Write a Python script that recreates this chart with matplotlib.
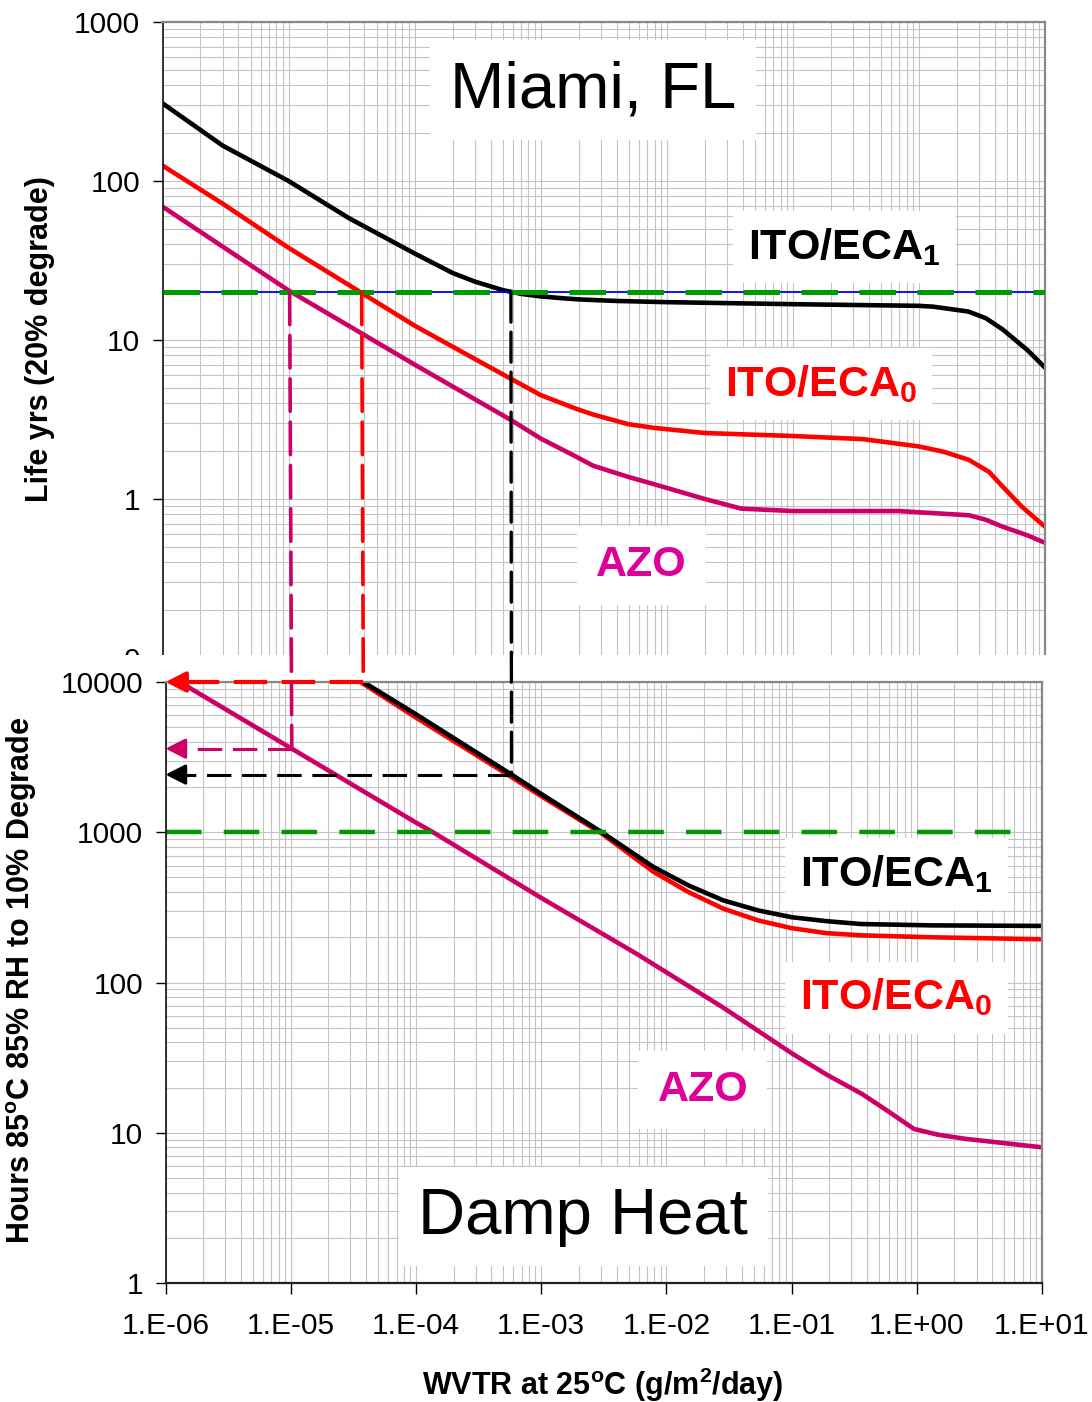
import numpy as np
import matplotlib
matplotlib.use("Agg")
import matplotlib.pyplot as plt
from matplotlib.patches import Rectangle, ConnectionPatch
from matplotlib.ticker import LogLocator, FixedLocator, FixedFormatter, NullFormatter

plt.rcParams['font.family'] = ['Liberation Sans', 'DejaVu Sans']
plt.rcParams['mathtext.fontset'] = 'custom'
plt.rcParams['mathtext.rm'] = 'Liberation Sans'
plt.rcParams['mathtext.bf'] = 'Liberation Sans:bold'
plt.rcParams['mathtext.default'] = 'regular'

# ---- Miami, FL: life in years (20% degrade) vs WVTR ----
life_eca1_x = [1e-6, 3e-6, 1e-5, 3e-5, 1e-4, 2e-4, 3e-4, 5e-4, 7e-4, 1e-3, 1.5e-3, 2e-3, 4e-3, 1e-2, 1e-1,
               1, 1.3, 2.47, 3.4, 4.65, 7.3, 10]
life_eca1_y = [308, 167, 100, 58.5, 35, 26.4, 23.3, 20.6, 19.5, 18.8, 18.3, 18.0, 17.6, 17.3, 16.8,
               16.4, 16.2, 15.1, 13.7, 11.6, 8.6, 6.7]

life_eca0_x = [1e-6, 3e-6, 1e-5, 3e-5, 1e-4, 3e-4, 1e-3, 1.9e-3, 2.6e-3, 4.9e-3, 7.9e-3, 2e-2,
               0.1, 0.36, 1, 1.58, 2.5, 3.6, 4.6, 6.5, 8.3, 10]
life_eca0_y = [125, 72, 38, 22.2, 12.3, 7.6, 4.5, 3.7, 3.4, 2.96, 2.8, 2.6,
               2.49, 2.38, 2.14, 1.98, 1.76, 1.48, 1.2, 0.9, 0.76, 0.67]

life_azo_x = [1e-6, 1e-5, 3.8e-5, 1e-4, 5.8e-4, 1e-3, 1.9e-3, 2.6e-3, 4.9e-3, 7.9e-3, 2e-2, 3.9e-2,
              0.1, 0.69, 2.5, 3.4, 4.6, 7.3, 10]
life_azo_y = [69, 20.5, 11, 7.0, 3.14, 2.4, 1.85, 1.62, 1.38, 1.24, 1.0, 0.87,
              0.84, 0.84, 0.79, 0.74, 0.67, 0.59, 0.53]

# ---- damp heat: hours at 85C/85%RH to 10% degrade vs WVTR ----
dh_eca1_x = [3.8e-5, 1e-4, 5.8e-4, 1e-3, 3.05e-3, 7.9e-3, 1.5e-2, 2.85e-2, 5.4e-2, 0.1, 0.19, 0.36, 1.3, 10]
dh_eca1_y = [10000, 6100, 2420, 1800, 1000, 587, 443, 352, 302, 272, 256, 245, 240, 238]

dh_eca0_x = [3.6e-5, 1e-4, 5.8e-4, 1e-3, 3.05e-3, 7.9e-3, 1.5e-2, 2.85e-2, 5.4e-2, 0.1, 0.19, 0.36, 1.3, 10]
dh_eca0_y = [10000, 5800, 2330, 1740, 980, 545, 400, 310, 259, 230, 213, 206, 200, 194]

dh_azo_x = [1.3e-6, 1.02e-5, 1e-4, 1.37e-4, 1e-3, 5.8e-3, 2.85e-2, 0.102, 0.19, 0.366, 0.59,
            0.95, 1.48, 2.47, 10]
dh_azo_y = [10000, 3600, 1160, 1000, 366, 155, 68, 33.5, 24.4, 18.1, 13.9,
            10.6, 9.7, 9.1, 8.0]

# 20-year target and 1000 h damp heat reference
life_target = 20
dh_target = 1000

# WVTR where each curve reaches 20 years, and the damp heat hours there
cross_names = ['azo', 'eca0', 'eca1']
cross_wvtr = [1.02e-5, 3.8e-5, 5.8e-4]
cross_hours = [3600, 10000, 2420]

x_ticks = [1e-6, 1e-5, 1e-4, 1e-3, 1e-2, 1e-1, 1, 10]
x_labels = ['1.E-06', '1.E-05', '1.E-04', '1.E-03', '1.E-02', '1.E-01', '1.E+00', '1.E+01']
life_ticks = [0.1, 1, 10, 100, 1000]
life_labels = ['0', '1', '10', '100', '1000']
dh_ticks = [1, 10, 100, 1000, 10000]
dh_labels = ['1', '10', '100', '1000', '10000']

BLACK = '#000000'
RED = '#FF0000'
AZO_LINE = '#CC0066'
AZO_TEXT = '#DD0099'
GREEN = '#009900'
GRID = '#C4C4C4'
colors = {'azo': AZO_LINE, 'eca0': RED, 'eca1': BLACK}

fig = plt.figure(figsize=(10.92, 14.02), dpi=100)
fig.patch.set_facecolor('white')

ax1 = fig.add_axes([162.5 / 1092, 1 - 658 / 1402, (1045 - 162.5) / 1092, 636 / 1402], zorder=1)
ax2 = fig.add_axes([165.5 / 1092, 1 - 1283 / 1402, (1042 - 165.5) / 1092, 601 / 1402], zorder=2)


def setup(ax, ylim, yticks, ylabels):
    ax.set_xscale('log')
    ax.set_yscale('log')
    ax.set_xlim(1e-6, 10)
    ax.set_ylim(*ylim)
    ax.xaxis.set_major_locator(FixedLocator(x_ticks))
    ax.xaxis.set_major_formatter(FixedFormatter(x_labels))
    ax.xaxis.set_minor_locator(LogLocator(base=10, subs=np.arange(2, 10), numticks=40))
    ax.xaxis.set_minor_formatter(NullFormatter())
    ax.yaxis.set_major_locator(FixedLocator(yticks))
    ax.yaxis.set_major_formatter(FixedFormatter(ylabels))
    ax.yaxis.set_minor_locator(LogLocator(base=10, subs=np.arange(2, 10), numticks=40))
    ax.yaxis.set_minor_formatter(NullFormatter())
    ax.grid(which='both', color=GRID, lw=0.8)
    ax.set_axisbelow(True)
    ax.tick_params(which='minor', length=0)
    ax.tick_params(which='major', direction='out', length=7, width=1, labelsize=21.5)
    ax.tick_params(axis='y', pad=9)
    ax.spines['left'].set_color('#111111')
    ax.spines['left'].set_linewidth(1.2)
    for s in ['top', 'right']:
        ax.spines[s].set_color('#888888')
        ax.spines[s].set_linewidth(1.6)


setup(ax1, (0.1, 1000), life_ticks, life_labels)
setup(ax2, (1, 10000), dh_ticks, dh_labels)
ax1.tick_params(axis='x', which='both', length=0, labelbottom=False)
ax2.tick_params(axis='x', pad=13, length=8)
ax2.spines['bottom'].set_color('#222222')
ax2.spines['bottom'].set_linewidth(1.6)

LW = 3.3

# top panel curves
ax1.plot(life_eca1_x, life_eca1_y, color=BLACK, lw=LW, solid_joinstyle='round')
ax1.plot(life_eca0_x, life_eca0_y, color=RED, lw=LW, solid_joinstyle='round')
ax1.plot(life_azo_x, life_azo_y, color=AZO_LINE, lw=LW, solid_joinstyle='round')
ax1.axhline(life_target, color='#0000FF', lw=1.3, zorder=2.5)
ax1.axhline(life_target, color=GREEN, lw=3.6, dashes=(7.3, 4.3), zorder=2.6)

# bottom panel curves
ax2.plot(dh_eca0_x, dh_eca0_y, color=RED, lw=LW, solid_joinstyle='round')
ax2.plot(dh_eca1_x, dh_eca1_y, color=BLACK, lw=LW, solid_joinstyle='round')
ax2.plot(dh_azo_x, dh_azo_y, color=AZO_LINE, lw=LW, solid_joinstyle='round')
ax2.plot([1e-6, 7e0], [dh_target, dh_target], color=GREEN, lw=3.2, dashes=(8, 5))

# white strip hiding the lower end of the top panel
fig.add_artist(Rectangle((0, 0), 1, 1 - 655 / 1402, transform=fig.transFigure,
                         facecolor='white', edgecolor='none', zorder=1.5))

# drop lines from the 20 yr crossing down to damp heat hours, then back to the axis
for name, wx, hrs in zip(cross_names, cross_wvtr, cross_hours):
    c = colors[name]
    lw = 2.6 if name != 'eca1' else 2.4
    cp = ConnectionPatch(xyA=(wx, life_target), coordsA=ax1.transData,
                         xyB=(wx, hrs), coordsB=ax2.transData,
                         color=c, lw=lw, linestyle=(0, (9, 3)), zorder=5)
    fig.add_artist(cp)
    hlw = 3 if name == 'eca0' else 2.2
    ax2.plot([wx, 1.12e-6], [hrs, hrs], color=c, lw=hlw, dashes=(8, 3.5),
             clip_on=False, zorder=6)
    ax2.annotate('', xy=(1.0e-6, hrs), xytext=(1.35e-6, hrs),
                 arrowprops=dict(arrowstyle='-|>,head_length=0.55,head_width=0.28',
                                 color=c, lw=hlw, shrinkA=0, shrinkB=0,
                                 mutation_scale=22),
                 annotation_clip=False, zorder=6)


def label(ax, x, y, s, color, size, weight='bold', pad=0.35):
    ax.text(x, y, s, transform=ax.transAxes, ha='center', va='center',
            fontsize=size, fontweight=weight, color=color, zorder=4,
            bbox=dict(boxstyle='square,pad=%s' % pad, facecolor='white', edgecolor='none'))


label(ax1, 0.488, 0.893, 'Miami, FL', BLACK, 47, weight='normal', pad=0.3)
label(ax1, 0.7725, 0.646, 'ITO/ECA$_1$', BLACK, 31)
label(ax1, 0.746, 0.431, 'ITO/ECA$_0$', RED, 31)
label(ax1, 0.5427, 0.146, 'AZO', AZO_TEXT, 31, pad=0.45)

label(ax2, 0.834, 0.680, 'ITO/ECA$_1$', BLACK, 31)
label(ax2, 0.834, 0.475, 'ITO/ECA$_0$', RED, 31)
label(ax2, 0.613, 0.321, 'AZO', AZO_TEXT, 31, pad=0.45)
label(ax2, 0.4767, 0.110, 'Damp Heat', BLACK, 47, weight='normal', pad=0.3)

fig.text(40 / 1092, 1 - 339 / 1402, 'Life yrs (20% degrade)', rotation=90,
         ha='center', va='center', fontsize=22, fontweight='bold')
fig.text(22 / 1092, 1 - 980 / 1402, 'Hours 85$^{o}$C 85% RH to 10% Degrade', rotation=90,
         ha='center', va='center', fontsize=22, fontweight='bold')
fig.text(603 / 1092, 1 - 1385 / 1402, 'WVTR at 25$^{o}$C (g/m$^{2}$/day)',
         ha='center', va='center', fontsize=22, fontweight='bold')

fig.savefig('out.png', dpi=100, facecolor='white')
